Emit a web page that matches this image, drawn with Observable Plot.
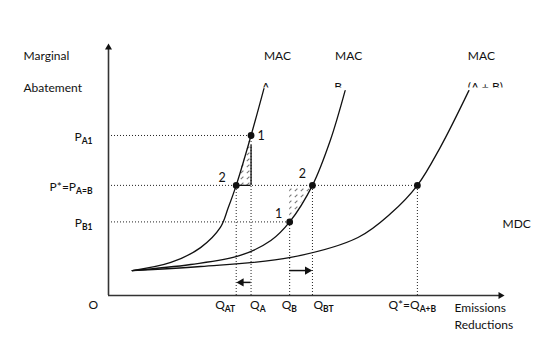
<!DOCTYPE html>
<html><head><meta charset="utf-8">
<script src="https://cdn.jsdelivr.net/npm/d3@7"></script>
<script src="https://cdn.jsdelivr.net/npm/@observablehq/plot@0.6"></script>
<style>body{margin:0;background:#fff}</style>
</head><body><div id="chart"></div>
<script>
// ---- data ----
const curveNames = ["A", "B", "A+B"];
const macA_q  = [2.4, 6.3, 9.3, 11.3, 12.1, 12.9, 14.4, 15.7];
const macA_p  = [9.9, 13.1, 19.0, 27.0, 34.9, 43.7, 63.5, 82.1];
const macB_q  = [2.4, 8.3, 13.3, 16.4, 18.3, 20.6, 22.4, 23.9];
const macB_p  = [9.9, 12.3, 15.9, 21.8, 29.2, 43.7, 61.5, 81.3];
const macAB_q = [2.4, 9.3, 18.4, 25.2, 28.5, 31.2, 33.5, 36.4];
const macAB_p = [9.9, 11.5, 15.1, 23.0, 32.5, 43.7, 58.7, 81.3];

const qLabels = ["Q_{AT}", "Q_{A}", "Q_{B}", "Q_{BT}", "Q*=Q_{A+B}"];
const qValues = [12.9, 14.4, 18.3, 20.6, 31.2];
const qTops   = [43.7, 63.5, 29.2, 43.7, 43.7];

const pLabels = ["P_{A1}", "P*=P_{A=B}", "P_{B1}"];
const pValues = [63.5, 43.7, 29.2];
const pEnds   = [14.4, 31.2, 18.3];

const ptQ = [14.4, 12.9, 20.6, 18.3, 31.2];
const ptP = [63.5, 43.7, 43.7, 29.2, 43.7];
const ptLabels = ["1", "2", "2", "1"];

const macWords = ["MAC", "MAC", "MAC"];
const macSubs = ["A", "B", "(A + B)"];

const Q_AT = qValues[0], Q_A = qValues[1], Q_B = qValues[2], Q_BT = qValues[3];
const P_A1 = pValues[0], PSTAR = pValues[1], P_B1 = pValues[2];
const triTop = 59.5;     // where the solid edge of triangle A ends
const shiftA_p = 5.2, shiftB_p = 9.9;   // heights of the two shift arrows
const X_MAX = 40, Y_MAX = 100;

// ---- tables built from arrays ----
const curves = [];
[[macA_q, macA_p], [macB_q, macB_p], [macAB_q, macAB_p]].forEach(([qs, ps], k) =>
  qs.forEach((q, i) => curves.push({curve: curveNames[k], q, p: ps[i]})));
const tops = [macA_q, macB_q, macAB_q].map(qs => qs[qs.length - 1]);

const hatchA = [{p: PSTAR, q1: Q_AT, q2: Q_A}, {p: P_A1, q1: Q_A, q2: Q_A}];
const hatchB = [{p: P_B1, q1: Q_B, q2: Q_B}, {p: PSTAR, q1: Q_B, q2: Q_BT}];

const ink = "#111";
const dotted = {stroke: "#222", strokeWidth: 1, strokeDasharray: "1,2"};
const qDx = [-21, -1, -8, 1, -29];
const ptDx = [10, -14, -10, -11], ptDy = [1, -7, -11, -8];
const macDx = [0, -10, -1];
const subDx = [2, -7, -1], subAnchor = ["middle", "middle", "start"];
const SUB_DY = 44;
const T = {fill: ink, lineAnchor: "middle"};

const chart = Plot.plot({
  width: 559, height: 352,
  marginLeft: 108, marginRight: 55, marginTop: 43, marginBottom: 57,
  x: {domain: [0, X_MAX], axis: null},
  y: {domain: [0, Y_MAX], axis: null},
  style: {fontFamily: "Lato, 'Open Sans', sans-serif", fontSize: "12px", background: "#fff", color: ink},
  marks: [
    Plot.areaX(hatchA, {y: "p", x1: "q1", x2: "q2", fill: "url(#hatch)"}),
    Plot.areaX(hatchB, {y: "p", x1: "q1", x2: "q2", fill: "url(#hatch)"}),
    Plot.ruleX(qValues, {y1: 0, y2: (d, i) => qTops[i], ...dotted}),
    Plot.ruleY(pValues, {x1: 0, x2: (d, i) => pEnds[i], ...dotted}),
    Plot.ruleX([Q_A], {y1: PSTAR, y2: triTop, stroke: ink, strokeWidth: 1.3}),
    Plot.ruleY([PSTAR], {x1: Q_AT, x2: Q_A, stroke: ink, strokeWidth: 1.3}),
    Plot.line(curves, {x: "q", y: "p", z: "curve", curve: "catmull-rom", stroke: ink, strokeWidth: 1.3}),
    // axes
    Plot.ruleX([0], {y1: 0, y2: Y_MAX - 2, stroke: "#333", strokeWidth: 1.6}),
    Plot.ruleY([0], {x1: 0, x2: X_MAX - 0.4, stroke: "#333", strokeWidth: 1.6}),
    Plot.dot([0], {x: 0, y: Y_MAX, symbol: "triangle", r: 2.6, fill: ink, stroke: null, dy: 4}),
    Plot.dot([0], {x: X_MAX, y: 0, symbol: "triangle", r: 2.6, fill: ink, stroke: null, rotate: 90, dx: -4}),
    // shift arrows
    Plot.ruleY([shiftA_p], {x1: Q_A, x2: Q_AT + 0.5, stroke: ink, strokeWidth: 1.5}),
    Plot.dot([0], {x: Q_AT, y: shiftA_p, symbol: "triangle", r: 3.1, fill: ink, stroke: null, rotate: -90, dx: 5}),
    Plot.ruleY([shiftB_p], {x1: Q_B, x2: Q_BT - 0.5, stroke: ink, strokeWidth: 1.5}),
    Plot.dot([0], {x: Q_BT, y: shiftB_p, symbol: "triangle", r: 3.1, fill: ink, stroke: null, rotate: 90, dx: -5}),
    // points
    Plot.dot(ptQ, {x: d => d, y: (d, i) => ptP[i], r: 3.4, fill: ink, stroke: null}),
    Plot.text(ptLabels, {x: (d, i) => ptQ[i], y: (d, i) => ptP[i], text: d => d, fontSize: 12.5, ...T}),
    // tick-like labels
    Plot.text(qLabels, {x: (d, i) => qValues[i], y: 0, text: d => d, textAnchor: "start", dy: 10, ...T}),
    Plot.text(pLabels, {x: 0, y: (d, i) => pValues[i], text: d => d, textAnchor: "end", dx: -16, dy: 1.5, ...T}),
    // curve labels
    Plot.text(macWords, {x: (d, i) => tops[i], frameAnchor: "top", text: d => d, textAnchor: "start", dy: 12.5, ...T}),
    Plot.text(macSubs, {x: (d, i) => tops[i], frameAnchor: "top", text: d => d, dy: SUB_DY, ...T}),
    // axis titles
    Plot.text(["Marginal"], {frameAnchor: "top-left", text: d => d, textAnchor: "start", dx: -85, dy: 13, ...T}),
    Plot.text(["Abatement"], {frameAnchor: "top-left", text: d => d, textAnchor: "start", dx: -85, dy: 45, ...T}),
    Plot.text(["O"], {frameAnchor: "bottom-left", text: d => d, dx: -20, dy: 10, ...T}),
    Plot.text(["Emissions"], {frameAnchor: "bottom-right", text: d => d, textAnchor: "start", dx: -50, dy: 13, ...T}),
    Plot.text(["Reductions"], {frameAnchor: "bottom-right", text: d => d, textAnchor: "start", dx: -50, dy: 30, ...T}),
    Plot.text(["MDC"], {frameAnchor: "right", text: d => d, textAnchor: "start", dx: -2, dy: 55, ...T})
  ]
});

// per-label offsets that Plot's constant dx cannot vary
const ns = "http://www.w3.org/2000/svg";
const groups = chart.querySelectorAll('g[aria-label="text"]');
function shiftGroup(g, dxs, dys, anchors) {
  g.querySelectorAll("text").forEach((t, i) => {
    const tr = t.getAttribute("transform") || "";
    t.setAttribute("transform", `translate(${dxs ? dxs[i] : 0},${dys ? dys[i] : 0}) ` + tr);
    if (anchors) t.setAttribute("text-anchor", anchors[i]);
  });
}
shiftGroup(groups[0], ptDx, ptDy);
shiftGroup(groups[1], qDx);
shiftGroup(groups[3], macDx);
shiftGroup(groups[4], subDx, null, subAnchor);

// clip the partly hidden MAC subscripts (clip rect is in the group's shifted coordinates)
const defs = document.createElementNS(ns, "defs");
defs.innerHTML = `
  <clipPath id="macclip" clipPathUnits="userSpaceOnUse"><rect x="-100" y="-100" width="800" height="${100 + 87 - SUB_DY}"/></clipPath>
  <pattern id="hatch" patternUnits="userSpaceOnUse" width="6" height="6">
    <path d="M0.8,5.2 L3.4,2.6" stroke="#777" stroke-width="1.1"/>
  </pattern>`;
chart.insertBefore(defs, chart.firstChild);
const subWrap = document.createElementNS(ns, "g");
subWrap.setAttribute("clip-path", "url(#macclip)");
while (groups[4].firstChild) subWrap.appendChild(groups[4].firstChild);
groups[4].appendChild(subWrap);

// subscripts
chart.querySelectorAll("text").forEach(t => {
  const s = t.textContent;
  if (!s.includes("_{")) return;
  const parts = s.split(/_\{([^}]*)\}/);
  t.textContent = "";
  let shifted = false;
  parts.forEach((part, i) => {
    if (!part) return;
    const ts = document.createElementNS(ns, "tspan");
    ts.textContent = part;
    if (i % 2 === 1) { ts.setAttribute("font-size", "8.5"); ts.setAttribute("font-weight", "bold"); ts.setAttribute("dy", "3"); shifted = true; }
    else if (shifted) { ts.setAttribute("dy", "-3"); shifted = false; }
    t.appendChild(ts);
  });
});

document.getElementById("chart").appendChild(chart);
</script>
</body></html>
